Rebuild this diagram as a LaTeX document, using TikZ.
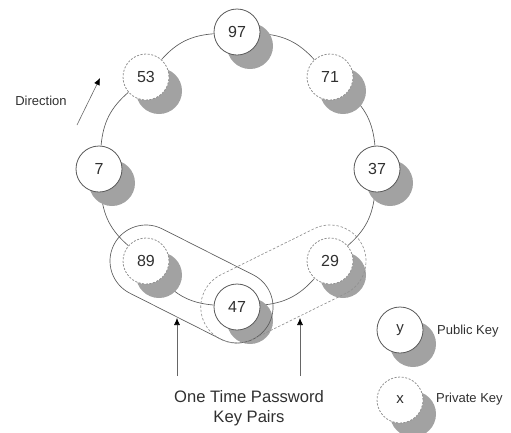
\documentclass[tikz,border=0pt]{standalone}
\usepackage{fontspec}
\setmainfont{Liberation Sans}
\usetikzlibrary{shadows,backgrounds,arrows.meta}
\definecolor{edgec}{HTML}{5A5A5A}
\definecolor{dashc}{HTML}{909090}
\definecolor{shade}{HTML}{A2A2A2}
\definecolor{txt}{HTML}{303030}
\tikzset{
  keynode/.style={circle, minimum size=46pt, inner sep=0pt, fill=white, text=txt,
    font=\fontsize{16}{16}\selectfont,
    drop shadow={shadow xshift=13pt, shadow yshift=-14pt, fill=shade, opacity=1}},
  pub/.style={keynode, draw=edgec, line width=0.8pt},
  priv/.style={keynode, draw=dashc, dash pattern=on 2pt off 1.6pt, line width=0.8pt},
  ringline/.style={draw=edgec, line width=0.65pt},
  pairsolid/.style={draw=edgec, line width=0.65pt},
  pairdash/.style={draw=dashc, line width=0.65pt, dash pattern=on 2.5pt off 1.8pt},
  pointer/.style={draw=gray!80!black, line width=0.6pt, -{Latex[length=7pt,width=6pt,black]}},
  smalltxt/.style={text=txt, font=\fontsize{13}{13}\selectfont, inner sep=0pt},
  bigtxt/.style={text=txt, font=\fontsize{16.6}{20}\selectfont, align=center, inner sep=0pt}
}
\begin{document}
\begin{tikzpicture}[x=1pt,y=1pt]
\useasboundingbox (0,0) rectangle (511,-432);
% ring nodes
\node[pub]  (n97) at (237,-32)  {97};
\node[priv] (n71) at (330,-77)  {71};
\node[pub]  (n37) at (377,-169) {37};
\node[priv] (n29) at (330,-261) {29};
\node[pub]  (n47) at (237,-307) {47};
\node[priv] (n89) at (146,-261) {89};
\node[pub]  (n7)  at (99,-169)  {7};
\node[priv] (n53) at (146,-77)  {53};
% ring
\begin{scope}[on background layer]
\draw[ringline] (n97) to[bend left=22] (n71);
\draw[ringline] (n71) to[bend left=22] (n37);
\draw[ringline] (n37) to[bend left=22] (n29);
\draw[ringline] (n29) to[bend left=22] (n47);
\draw[ringline] (n47) to[bend left=22] (n89);
\draw[ringline] (n89) to[bend left=22] (n7);
\draw[ringline] (n7)  to[bend left=22] (n53);
\draw[ringline] (n53) to[bend left=22] (n97);
\end{scope}
% key pair capsules
\begin{scope}[shift={(n89.center)}, rotate=-26.8]
\draw[pairsolid] (0,36) -- (102,36) arc[start angle=90, end angle=-90, radius=36pt]
  -- (0,-36) arc[start angle=270, end angle=90, radius=36pt] -- cycle;
\end{scope}
\begin{scope}[shift={(n29.center)}, rotate=206.3]
\draw[pairdash] (0,36) -- (104,36) arc[start angle=90, end angle=-90, radius=36pt]
  -- (0,-36) arc[start angle=270, end angle=90, radius=36pt] -- cycle;
\end{scope}
% direction
\coordinate (dirA) at (77,-125);
\coordinate (dirB) at (100,-78);
\draw[pointer] (dirA) -- (dirB);
\node[smalltxt] (dirlbl) at (41,-101) {Direction};
% one time password arrows
\coordinate (pA1) at (177,-376);
\coordinate (pA2) at (177,-318);
\coordinate (pB1) at (300,-376);
\coordinate (pB2) at (300,-318);
\draw[pointer] (pA1) -- (pA2);
\draw[pointer] (pB1) -- (pB2);
\node[bigtxt] (otp) at (249,-408) {One Time Password\\Key Pairs};
% legend
\node[pub]  (legy) at (400,-330) {\fontsize{15}{15}\selectfont y};
\node[priv] (legx) at (400,-400) {\fontsize{15}{15}\selectfont x};
\node[smalltxt, anchor=west] (legpub) at (437,-331) {Public Key};
\node[smalltxt, anchor=west] (legpriv) at (436,-399) {Private Key};
\end{tikzpicture}
\end{document}
